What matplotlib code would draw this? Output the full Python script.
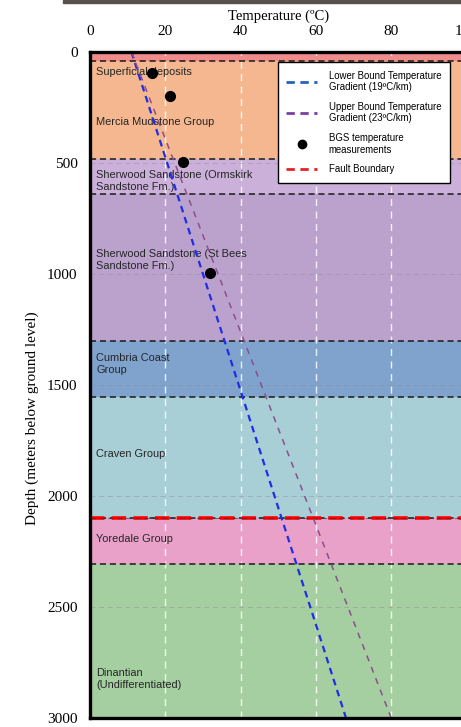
import numpy as np
import matplotlib.pyplot as plt
from matplotlib.lines import Line2D
from matplotlib.patches import Rectangle

# Geological layers (top and base depth in m)
layer_tops = [0, 40, 480, 640, 1300, 1555, 2100, 2305]
layer_bases = [40, 480, 640, 1300, 1555, 2100, 2305, 3000]
layer_colors = ['#f08c8c', '#f4b78f', '#cbb0d9', '#bba2cd', '#7fa3cd',
                '#a8ced6', '#e9a1c9', '#a6cfa1']

# label text and depth where it sits
label_texts = ['Superficial deposits', 'Mercia Mudstone Group',
               'Sherwood Sandstone (Ormskirk\nSandstone Fm.)',
               'Sherwood Sandstone (St Bees\nSandstone Fm.)', 'Cumbria Coast\nGroup',
               'Craven Group', 'Yoredale Group', 'Dinantian\n(Undifferentiated)']
label_depths = [90, 315, 580, 937, 1405, 1811, 2194, 2824]

fault_depth = 2100

# temperature gradients (end points)
grad_depth = [0, 3000]
lower_temp = [11, 68]
upper_temp = [11, 80]

# BGS measurements
bgs_temp = [16.5, 21.2, 24.7, 31.9]
bgs_depth = [95, 198, 495, 995]

fig = plt.figure(figsize=(4.61, 7.27), dpi=100)
ax = fig.add_axes([90 / 461, 1 - 718 / 727, 376.5 / 461, 666 / 727])

serif = 'Liberation Serif'
sans = 'Liberation Sans'

for top, base, c in zip(layer_tops, layer_bases, layer_colors):
    ax.axhspan(top, base, color=c, zorder=0, lw=0)

# boundaries
for b in layer_bases[:-1]:
    ax.axhline(b, color='#1a1a1a', lw=1.1, ls=(0, (4, 2.5)), zorder=2)
ax.axhline(fault_depth, color='#ff0000', lw=2.6, ls=(0, (4, 2)), zorder=3)
ax.axhline(fault_depth, color='#333333', lw=0.8, ls=(0, (5, 3)), zorder=3.1, alpha=0.6)

# grid
for x in [20, 40, 60, 80]:
    ax.axvline(x, color='white', lw=1.0, ls=(0, (5, 4)), alpha=0.85, zorder=1)
for y in [500, 1000, 1500, 2000, 2500]:
    ax.axhline(y, color='#8c8c8c', lw=0.7, ls=(0, (5, 4)), alpha=0.45, zorder=1)

for name, d in zip(label_texts, label_depths):
    ax.text(1.6, d, name, fontsize=7.9, family=sans, color='#262626',
            va='center', ha='left', zorder=4, linespacing=1.2)

ax.plot(lower_temp, grad_depth, color='#1f2ee6', lw=1.6, ls=(0, (3, 2.2)), zorder=5)
ax.plot(upper_temp, grad_depth, color='#8a4f8c', lw=1.1, ls=(0, (4, 4)), zorder=5)
ax.plot(bgs_temp, bgs_depth, 'o', color='black', ms=7, zorder=6)

ax.set_xlim(0, 100)
ax.set_ylim(3000, 0)
ax.xaxis.set_ticks_position('top')
ax.xaxis.set_label_position('top')
ax.set_xticks([0, 20, 40, 60, 80, 100])
ax.set_yticks([0, 500, 1000, 1500, 2000, 2500, 3000])
ax.tick_params(length=0, labelsize=11)
ax.tick_params(axis='x', pad=10)
ax.tick_params(axis='y', pad=9)
for lab in ax.get_xticklabels() + ax.get_yticklabels():
    lab.set_family(serif)
ax.set_xlabel('Temperature (\u00baC)', family=serif, fontsize=10.5, labelpad=4)
fig.text(32 / 461, 1 - 418 / 727, 'Depth (meters below ground level)', family=serif,
         fontsize=11, rotation=90, ha='center', va='center')

for s in ax.spines.values():
    s.set_linewidth(2.4)
    s.set_color('black')
    s.set_zorder(10)

handles = [
    Line2D([], [], color='#2563b8', lw=2, ls=(0, (3, 2))),
    Line2D([], [], color='#7a3fa0', lw=2, ls=(0, (3, 2))),
    Line2D([], [], color='black', marker='o', ls='none', ms=6),
    Line2D([], [], color='#e8202a', lw=2, ls=(0, (3, 2))),
]
labels = ['Lower Bound Temperature\nGradient (19\u00baC/km)',
          'Upper Bound Temperature\nGradient (23\u00baC/km)',
          'BGS temperature\nmeasurements',
          'Fault Boundary']
leg = ax.legend(handles, labels, loc='upper left', bbox_to_anchor=(0.499, 0.985),
                prop={'family': sans, 'size': 6.9}, frameon=True, fancybox=False,
                edgecolor='black', framealpha=1, handlelength=3.2, handletextpad=1.2,
                labelspacing=1.0, borderpad=0.9, borderaxespad=0)
leg.get_frame().set_linewidth(1.0)
leg.set_zorder(20)

# dark strip at the very top of the screenshot
fig.patches.append(Rectangle((63 / 461, 1 - 3 / 727), 1, 3 / 727, transform=fig.transFigure,
                             color='#5a504b', zorder=0))

fig.savefig('out.png', dpi=100)
